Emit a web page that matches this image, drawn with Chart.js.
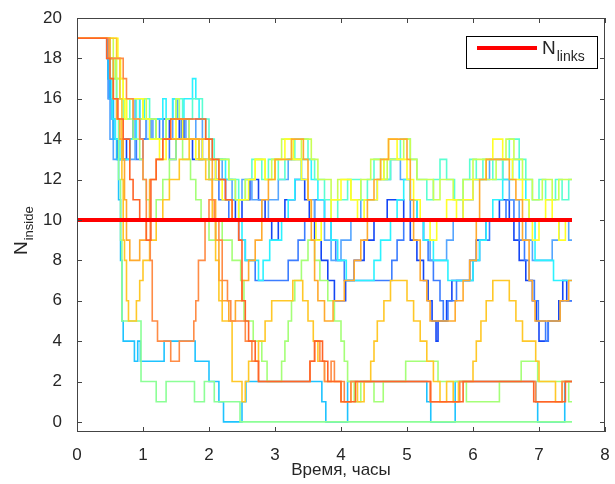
<!DOCTYPE html>
<html>
<head>
<meta charset="utf-8">
<script src="https://cdn.jsdelivr.net/npm/chart.js@4.4.1/dist/chart.umd.min.js"></script>
<style>
  html, body { margin: 0; padding: 0; background: #fff; }
  #wrap { position: relative; width: 615px; height: 484px; }
</style>
</head>
<body>
<div id="wrap"><canvas id="chart" width="615" height="484"></canvas></div>
<script>
// Tick labels
const xTicks = [0, 1, 2, 3, 4, 5, 6, 7, 8];
const yTicks = [0, 2, 4, 6, 8, 10, 12, 14, 16, 18, 20];

// Reference level
const nLinks = [[0, 10], [7.5, 10]];

// Step series: [time, value from this time on]
const darkBlue = [[0,19],[0.47,17],[0.5,16],[0.55,14],[0.62,13],[0.75,14],[0.85,15],[0.95,14],[1.05,15],[1.2,14],[1.3,15],[1.4,14],[1.55,15],[1.62,14],[1.75,13],[1.9,14],[2.0,13],[2.1,12],[2.25,11],[2.4,10],[2.5,11],[2.62,12],[2.75,11],[2.85,10],[2.95,9],[3.05,10],[3.15,11],[3.3,12],[3.45,11],[3.52,10],[3.6,9],[3.7,8],[3.8,7],[3.9,6],[4.07,7],[4.2,8],[4.35,9],[4.5,10],[4.7,11],[4.95,10],[5.05,9],[5.15,8],[5.25,7],[5.32,6],[5.38,5],[5.44,4],[5.47,5],[5.6,6],[5.68,7],[5.95,8],[6.05,9],[6.2,10],[6.4,11],[6.55,10],[6.62,9],[6.7,8],[6.8,7],[6.9,6],[6.96,5],[7.0,4],[7.14,5],[7.3,6],[7.36,7],[7.42,6],[7.5,6]];
const midBlue = [[0,19],[0.46,18],[0.48,16],[0.52,15],[0.58,14],[0.68,13],[0.8,14],[0.9,13],[1.0,14],[1.12,15],[1.25,14],[1.4,13],[1.5,14],[1.58,15],[1.7,14],[1.85,13],[2.0,12],[2.15,11],[2.3,10],[2.45,9],[2.55,8],[2.7,7],[3.2,8],[3.35,9],[3.45,10],[3.6,11],[3.75,10],[3.85,9],[3.92,8],[4.05,7],[4.77,8],[4.85,9],[4.95,10],[5.05,11],[5.15,10],[5.25,9],[5.32,8],[5.4,7],[5.5,6],[5.55,5],[5.62,6],[5.75,7],[6.0,8],[6.1,9],[6.25,10],[6.5,11],[6.62,10],[6.7,9],[6.78,8],[6.85,7],[6.93,6],[6.99,5],[7.1,4],[7.14,5],[7.32,6],[7.5,6]];
const lightBlue = [[0,19],[0.45,18],[0.47,16],[0.5,14],[0.55,13],[0.7,14],[0.8,13],[0.88,16],[0.95,15],[1.05,14],[1.15,15],[1.3,14],[1.45,16],[1.52,15],[1.65,14],[1.8,15],[1.9,14],[2.0,13],[2.2,12],[2.35,11],[2.5,12],[2.65,11],[2.8,10],[2.9,11],[3.05,12],[3.2,13],[3.4,12],[3.5,11],[3.6,10],[3.75,9],[3.85,8],[4.0,9],[4.15,10],[4.3,11],[4.55,12],[4.75,13],[4.9,12],[5.05,11],[5.15,10],[5.25,9],[5.35,8],[5.6,9],[5.7,10],[5.85,11],[6.0,12],[6.25,13],[6.45,12],[6.55,11],[6.7,10],[6.8,9],[6.9,8],[7.2,9],[7.3,10],[7.45,9],[7.5,9]];
const skyLow = [[0,19],[0.47,17],[0.5,16],[0.55,14],[0.6,13],[0.63,11],[0.66,8],[0.68,5],[0.7,4],[0.87,3],[0.92,4],[0.96,3],[1.32,4],[1.79,3],[2.0,2],[2.15,1],[2.22,0],[2.5,1],[2.56,2],[3.71,1],[3.77,0],[4.1,2],[5.3,1],[5.36,0],[5.73,2],[6.95,1],[6.98,0],[7.39,2],[7.5,2]];
const cyanMid = [[0,19],[0.48,18],[0.5,17],[0.53,15],[0.58,14],[0.65,13],[0.8,14],[0.9,15],[0.95,16],[1.02,15],[1.1,14],[1.2,15],[1.3,16],[1.35,15],[1.45,16],[1.55,15],[1.62,16],[1.75,17],[1.8,16],[1.85,15],[1.95,14],[2.05,13],[2.25,12],[2.4,11],[2.45,10],[2.5,9],[2.55,8],[2.75,7],[2.82,8],[2.92,9],[3.1,10],[3.2,11],[3.3,12],[3.4,13],[3.55,12],[3.65,11],[3.75,10],[3.85,9],[3.95,8],[4.08,7],[4.5,8],[4.6,9],[4.75,10],[4.85,11],[4.95,12],[5.05,11],[5.15,10],[5.25,9],[5.4,8],[5.62,7],[6.0,8],[6.1,9],[6.2,10],[6.3,11],[6.45,12],[6.6,13],[6.7,12],[6.8,11],[6.85,10],[6.94,8],[7.22,7],[7.5,7]];
const aquaHigh = [[0,19],[0.5,18],[0.55,17],[0.6,16],[0.7,15],[0.8,16],[0.9,15],[1.0,16],[1.1,15],[1.2,14],[1.35,15],[1.5,16],[1.6,15],[1.75,16],[1.9,15],[2.0,14],[2.08,13],[2.3,12],[2.45,11],[2.55,12],[2.65,13],[2.8,12],[2.9,13],[3.05,12],[3.15,13],[3.3,14],[3.5,13],[3.6,12],[3.75,11],[3.85,10],[3.95,11],[4.1,12],[4.3,11],[4.4,12],[4.5,13],[4.65,12],[4.75,13],[4.9,14],[5.05,13],[5.15,12],[5.3,11],[5.4,12],[5.5,13],[5.6,12],[5.72,11],[5.85,12],[5.95,13],[6.05,12],[6.15,13],[6.3,12],[6.45,13],[6.55,14],[6.7,13],[6.8,12],[6.9,11],[7.0,12],[7.1,11],[7.25,12],[7.35,11],[7.45,12],[7.5,12]];
const greenLow = [[0,19],[0.5,18],[0.55,17],[0.6,15],[0.63,12],[0.66,9],[0.68,5],[0.97,2],[1.2,1],[1.35,2],[1.78,1],[1.93,2],[2.08,1],[2.47,0],[7.5,0]];
const greenMid = [[0,19],[0.5,18],[0.58,17],[0.65,16],[0.75,15],[0.85,14],[0.95,13],[1.0,12],[1.05,11],[1.1,10],[1.2,11],[1.3,12],[1.4,13],[1.5,14],[1.6,13],[1.72,12],[1.8,11],[1.88,10],[2.0,9],[2.1,10],[2.2,9],[2.35,8],[2.48,7],[2.53,5],[2.67,4],[2.8,3],[2.88,2],[3.1,3],[3.15,4],[3.2,5],[3.25,6],[3.3,7],[3.4,8],[3.5,9],[3.6,8],[3.68,7],[3.8,6],[3.9,5],[4.0,4],[4.05,3],[4.1,2],[4.2,1],[4.3,2],[4.5,1],[4.64,2],[4.98,3],[5.47,2],[5.9,1],[6.4,2],[6.73,3],[6.98,2],[7.45,1],[7.5,1]];
const limeHigh = [[0,19],[0.55,18],[0.6,17],[0.7,16],[0.85,15],[1.0,16],[1.05,15],[1.2,14],[1.35,15],[1.5,16],[1.55,15],[1.7,14],[1.85,13],[2.0,12],[2.15,13],[2.3,12],[2.4,11],[2.55,12],[2.7,13],[2.85,12],[2.95,13],[3.1,14],[3.25,13],[3.4,14],[3.55,13],[3.65,12],[3.85,11],[3.95,12],[4.15,11],[4.3,12],[4.45,13],[4.6,12],[4.7,13],[4.95,14],[5.05,13],[5.15,12],[5.4,11],[5.5,12],[5.7,11],[5.85,12],[6.0,13],[6.2,12],[6.35,13],[6.5,14],[6.62,13],[6.75,12],[6.9,11],[7.05,12],[7.2,11],[7.3,12],[7.5,12]];
const yellowHigh = [[0,19],[0.62,18],[0.66,17],[0.7,16],[0.72,15],[0.75,16],[1.0,15],[1.1,14],[1.25,13],[1.35,14],[1.5,15],[1.6,14],[1.8,13],[1.9,14],[2.0,13],[2.1,12],[2.2,11],[2.35,10],[2.45,11],[2.6,12],[2.7,13],[2.85,12],[3.0,13],[3.15,14],[3.28,13],[3.4,12],[3.5,11],[3.55,10],[3.62,9],[3.7,10],[3.85,11],[4.0,12],[4.15,11],[4.25,10],[4.35,11],[4.55,12],[4.65,13],[4.72,14],[4.85,13],[5.0,12],[5.1,11],[5.2,10],[5.35,9],[5.45,10],[5.6,11],[5.75,10],[5.85,11],[6.0,12],[6.2,13],[6.3,14],[6.45,13],[6.6,12],[6.75,11],[6.85,10],[6.9,9],[7.0,10],[7.1,11],[7.2,10],[7.3,9],[7.4,10],[7.5,10]];
const goldWave = [[0,19],[0.6,18],[0.65,16],[0.68,12],[0.7,9],[0.72,8],[0.75,6],[0.78,5],[0.9,6],[0.95,7],[1.0,8],[1.1,9],[1.2,10],[1.3,11],[1.4,12],[1.55,13],[1.7,14],[1.85,13],[1.95,12],[2.05,10],[2.1,8],[2.15,6],[2.2,5],[2.35,2],[2.5,1],[2.55,2],[2.6,3],[2.75,4],[2.85,5],[2.95,6],[3.27,7],[3.42,6],[3.5,5],[3.58,4],[3.65,3],[3.75,2],[4.0,1],[4.15,2],[4.25,1],[4.35,2],[4.45,3],[4.5,4],[4.55,5],[4.65,6],[4.75,7],[5.0,6],[5.1,5],[5.2,4],[5.3,3],[5.4,2],[5.5,1],[5.6,2],[5.7,1],[5.78,2],[6.0,3],[6.05,4],[6.12,5],[6.2,6],[6.3,7],[6.55,6],[6.65,5],[6.75,4],[6.95,3],[7.0,2],[7.25,1],[7.35,2],[7.5,2]];
const orangeWave = [[0,19],[0.5,18],[0.55,16],[0.6,15],[0.65,14],[0.7,13],[0.72,11],[0.75,9],[0.8,8],[0.95,9],[1.05,10],[1.1,12],[1.2,13],[1.3,14],[2.0,13],[2.05,11],[2.1,9],[2.15,7],[2.2,6],[2.3,5],[2.4,6],[2.5,7],[2.6,8],[2.7,9],[2.8,11],[2.9,12],[3.0,13],[3.25,14],[3.43,13],[3.5,11],[3.55,9],[3.6,7],[3.65,6],[3.75,5],[3.88,6],[4.05,7],[4.2,8],[4.3,9],[4.4,11],[4.5,12],[4.6,13],[4.72,14],[5.0,13],[5.05,11],[5.1,9],[5.2,7],[5.3,6],[5.35,5],[5.73,6],[5.85,7],[5.95,8],[6.05,10],[6.1,12],[6.2,13],[6.55,12],[6.65,11],[6.75,9],[6.85,7],[6.9,6],[6.94,5],[7.32,6],[7.45,7],[7.5,7]];
const darkOrange = [[0,19],[0.48,18],[0.7,17],[0.75,16],[0.85,15],[0.95,14],[1.0,12],[1.05,10],[1.11,8],[1.14,5],[1.22,4],[1.42,3],[1.55,4],[1.77,5],[1.8,6],[1.84,8],[1.94,10],[2.0,11],[2.08,10],[2.15,9],[2.2,7],[2.28,6],[2.33,5],[2.55,4],[2.65,3],[2.75,2],[3.53,3],[3.6,4],[3.68,3],[3.75,2],[3.85,3],[3.9,2],[4.05,1],[4.15,2],[5.35,1],[5.8,2],[6.95,1],[7.35,2],[7.5,2]];
const redOrange = [[0,19],[0.45,18],[0.5,17],[0.55,16],[0.62,15],[0.7,14],[0.8,12],[0.85,11],[0.95,10],[1.05,9],[1.12,12],[1.2,13],[1.3,14],[1.42,15],[1.95,14],[2.05,13],[2.15,12],[2.25,11],[2.35,10],[2.45,9],[2.5,6],[2.55,5],[2.6,4],[2.7,3],[2.75,2],[3.53,3],[3.6,4],[3.72,3],[3.8,2],[4.0,1],[4.22,2],[5.27,2],[5.36,1],[5.85,2],[6.92,1],[7.4,2],[7.5,2]];

const series = [
  { data: darkBlue, color: '#1446f5' },
  { data: midBlue, color: '#3c7dff' },
  { data: lightBlue, color: '#55a5ff' },
  { data: skyLow, color: '#1ec3ff' },
  { data: cyanMid, color: '#2cf2ff' },
  { data: aquaHigh, color: '#5affd2' },
  { data: greenLow, color: '#8cff96' },
  { data: greenMid, color: '#a5ff78' },
  { data: limeHigh, color: '#c8ff55' },
  { data: yellowHigh, color: '#ffff28' },
  { data: goldWave, color: '#ffc828' },
  { data: orangeWave, color: '#ffaa2d' },
  { data: darkOrange, color: '#ff8c46' },
  { data: redOrange, color: '#ff6428' },
];

const toPoints = (pairs) => pairs.map(([x, y]) => ({ x, y }));
const FONT = '"Liberation Sans", Arial, sans-serif';
const TEXT = '#262626';

// later series are drawn on top (lowest order ends up on top in Chart.js)
const datasets = [
  {
    data: toPoints(nLinks),
    borderColor: '#ff0000',
    borderWidth: 4,
    order: 0,
  },
  ...series.map((s, i) => ({
    data: toPoints(s.data),
    borderColor: s.color,
    borderWidth: 1.6,
    stepped: 'before',
    order: series.length - i,
  })),
];

// MATLAB-like box, inward ticks, legend and subscripted y title
const matlabFrame = {
  id: 'matlabFrame',
  afterDraw(chart) {
    const { ctx, chartArea: a, scales: { x, y } } = chart;
    ctx.save();
    ctx.strokeStyle = '#444';
    ctx.lineWidth = 1;
    ctx.strokeRect(a.left + 0.5, a.top + 0.5, a.right - a.left - 1, a.bottom - a.top - 1);
    ctx.beginPath();
    xTicks.forEach((v) => {
      const px = Math.round(x.getPixelForValue(v)) + 0.5;
      ctx.moveTo(px, a.bottom); ctx.lineTo(px, a.bottom - 5);
      ctx.moveTo(px, a.top); ctx.lineTo(px, a.top + 5);
    });
    yTicks.forEach((v) => {
      const py = Math.round(y.getPixelForValue(v)) + 0.5;
      ctx.moveTo(a.left, py); ctx.lineTo(a.left + 5, py);
      ctx.moveTo(a.right, py); ctx.lineTo(a.right - 5, py);
    });
    ctx.stroke();

    // legend
    const bx = a.right - 139, by = a.top + 18, bw = 131, bh = 32;
    ctx.fillStyle = '#fff';
    ctx.fillRect(bx, by, bw, bh);
    ctx.strokeStyle = '#000';
    ctx.strokeRect(bx + 0.5, by + 0.5, bw, bh);
    ctx.strokeStyle = '#ff0000';
    ctx.lineWidth = 4;
    ctx.beginPath();
    ctx.moveTo(bx + 11, by + 12); ctx.lineTo(bx + 71, by + 12);
    ctx.stroke();
    ctx.fillStyle = TEXT;
    ctx.textBaseline = 'alphabetic';
    ctx.textAlign = 'left';
    ctx.font = '19px ' + FONT;
    ctx.fillText('N', bx + 76, by + 18);
    const nw = ctx.measureText('N').width;
    ctx.font = '14px ' + FONT;
    ctx.fillText('links', bx + 76 + nw + 1, by + 25);

    // y title
    ctx.translate(27, (a.top + a.bottom) / 2 + 30);
    ctx.rotate(-Math.PI / 2);
    ctx.font = '19px ' + FONT;
    ctx.fillText('N', 0, 0);
    const w = ctx.measureText('N').width;
    ctx.font = '13px ' + FONT;
    ctx.fillText('inside', w + 1, 6);
    ctx.restore();
  },
};

new Chart(document.getElementById('chart'), {
  type: 'line',
  data: { datasets },
  options: {
    responsive: false,
    animation: false,
    events: [],
    layout: { padding: { top: 18, right: 10, left: 0, bottom: 0 } },
    elements: { point: { radius: 0 }, line: { tension: 0 } },
    plugins: { legend: { display: false }, tooltip: { enabled: false } },
    scales: {
      x: {
        type: 'linear',
        min: 0,
        max: 8,
        grid: { display: false },
        border: { display: false },
        afterBuildTicks: (scale) => { scale.ticks = xTicks.map((v) => ({ value: v })); },
        afterFit: (scale) => { scale.height = 52; },
        ticks: { color: TEXT, font: { family: FONT, size: 17 }, padding: 5, maxRotation: 0 },
        title: {
          display: true,
          text: 'Время, часы',
          color: TEXT,
          font: { family: FONT, size: 17 },
          padding: { top: 0, bottom: 3 },
        },
      },
      y: {
        type: 'linear',
        min: -0.5,
        max: 20,
        grid: { display: false },
        border: { display: false },
        afterBuildTicks: (scale) => { scale.ticks = yTicks.map((v) => ({ value: v })); },
        afterFit: (scale) => { scale.width = 77; },
        ticks: { color: TEXT, font: { family: FONT, size: 17 }, padding: 7 },
      },
    },
  },
  plugins: [matlabFrame],
});
</script>
</body>
</html>
